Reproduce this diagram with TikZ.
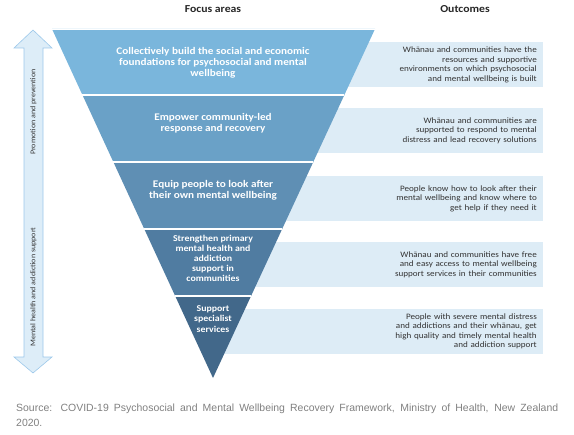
\documentclass[tikz,border=0pt]{standalone}
\usepackage{fontspec}
\setmainfont{Carlito}[FakeStretch=1.1]
\newfontfamily\capfont{Liberation Sans}
\usetikzlibrary{calc}
\definecolor{bandA}{HTML}{7AB6DC}
\definecolor{bandB}{HTML}{6AA1C7}
\definecolor{bandC}{HTML}{5F8FB4}
\definecolor{bandD}{HTML}{507CA1}
\definecolor{bandE}{HTML}{42688A}
\definecolor{boxfill}{HTML}{DDECF6}
\definecolor{arrowfill}{HTML}{DDEDF8}
\definecolor{arrowline}{HTML}{9CC8EA}
\definecolor{headtext}{HTML}{262626}
\definecolor{bodytext}{HTML}{333333}
\definecolor{captext}{HTML}{808080}
\tikzset{
  band/.style={draw=white, line width=1.2pt, line join=miter},
  bandtext/.style={text=white, font=\fontsize{10.2}{11}\selectfont\bfseries, align=center, inner sep=0pt},
  outbox/.style={fill=boxfill, draw=none, anchor=east, minimum height=45bp, text width=318bp, inner xsep=6bp, inner ysep=0pt, align=right, text=bodytext, font=\fontsize{8.3}{9.5}\selectfont},
  heading/.style={text=headtext, font=\fontsize{10.7}{12}\selectfont\bfseries, inner sep=0pt},
  sidelabel/.style={rotate=90, text=bodytext, font=\fontsize{7.3}{9}\selectfont, inner sep=0pt}
}
\begin{document}
\begin{tikzpicture}[x=1bp,y=-1bp]
\useasboundingbox (0,0) rectangle (574,435);
% headings
\node[heading] (hfocus) at (213,9) {Focus areas};
\node[heading] (hout) at (465,9) {Outcomes};
% outcome boxes (behind triangle)
\node[outbox] (o1) at (543,65) {Whānau and communities have the\\ resources and supportive\\ environments on which psychosocial\\ and mental wellbeing is built};
\node[outbox] (o2) at (543,130.5) {Whānau and communities are\\ supported to respond to mental\\ distress and lead recovery solutions};
\node[outbox] (o3) at (543,198.5) {People know how to look after their\\ mental wellbeing and know where to\\ get help if they need it};
\node[outbox] (o4) at (543,264.5) {Whānau and communities have free\\ and easy access to mental wellbeing\\ support services in their communities};
\node[outbox] (o5) at (543,331.5) {People with severe mental distress\\ and addictions and their whānau, get\\ high quality and timely mental health\\ and addiction support};
% triangle
\coordinate (TL) at (52,29);
\coordinate (TR) at (375,29);
\coordinate (AP) at (213,378);
\coordinate (L1) at ($(TL)!0.1891!(AP)$); \coordinate (R1) at ($(TR)!0.1891!(AP)$);
\coordinate (L2) at ($(TL)!0.3811!(AP)$); \coordinate (R2) at ($(TR)!0.3811!(AP)$);
\coordinate (L3) at ($(TL)!0.5731!(AP)$); \coordinate (R3) at ($(TR)!0.5731!(AP)$);
\coordinate (L4) at ($(TL)!0.7650!(AP)$); \coordinate (R4) at ($(TR)!0.7650!(AP)$);
\fill[bandA] (TL) -- (TR) -- (R1) -- (L1) -- cycle;
\fill[bandB] (L1) -- (R1) -- (R2) -- (L2) -- cycle;
\fill[bandC] (L2) -- (R2) -- (R3) -- (L3) -- cycle;
\fill[bandD] (L3) -- (R3) -- (R4) -- (L4) -- cycle;
\fill[bandE] (L4) -- (R4) -- (AP) -- cycle;
\draw[band] (L1) -- (R1) (L2) -- (R2) (L3) -- (R3) (L4) -- (R4);
\draw[white, line width=0.8pt] (TL) -- (TR);
% band texts
\node[bandtext] (f1) at (213,63) {Collectively build the social and economic\\ foundations for psychosocial and mental\\ wellbeing};
\node[bandtext] (f2) at (213,123.5) {Empower community-led\\ response and recovery};
\node[bandtext] (f3) at (213,190.5) {Equip people to look after\\ their own mental wellbeing};
\node[bandtext, font=\fontsize{9}{10.2}\selectfont\bfseries] (f4) at (213,258.5) {Strengthen primary\\ mental health and\\ addiction\\ support in\\ communities};
\node[bandtext, font=\fontsize{9}{10.8}\selectfont\bfseries] (f5) at (213,319) {Support\\ specialist\\ services};
% double arrow
\draw[fill=arrowfill, draw=arrowline, line width=0.6pt, line join=miter]
  (33,30) -- (52,48) -- (43,48) -- (43,357) -- (52,357) -- (33,373) -- (14,357) -- (24,357) -- (24,48) -- (14,48) -- cycle;
\node[sidelabel] (lp) at (33.5,112) {Promotion and prevention};
\node[sidelabel] (lm) at (33.5,287) {Mental health and addiction support};
% caption
\node[anchor=north west, text width=542bp, align=justify, inner sep=0pt, text=captext, font=\capfont\fontsize{10.5}{15}\selectfont] (cap) at (16,404) {Source: COVID-19 Psychosocial and Mental Wellbeing Recovery Framework, Ministry of Health, New Zealand\linebreak 2020.};
\end{tikzpicture}
\end{document}
